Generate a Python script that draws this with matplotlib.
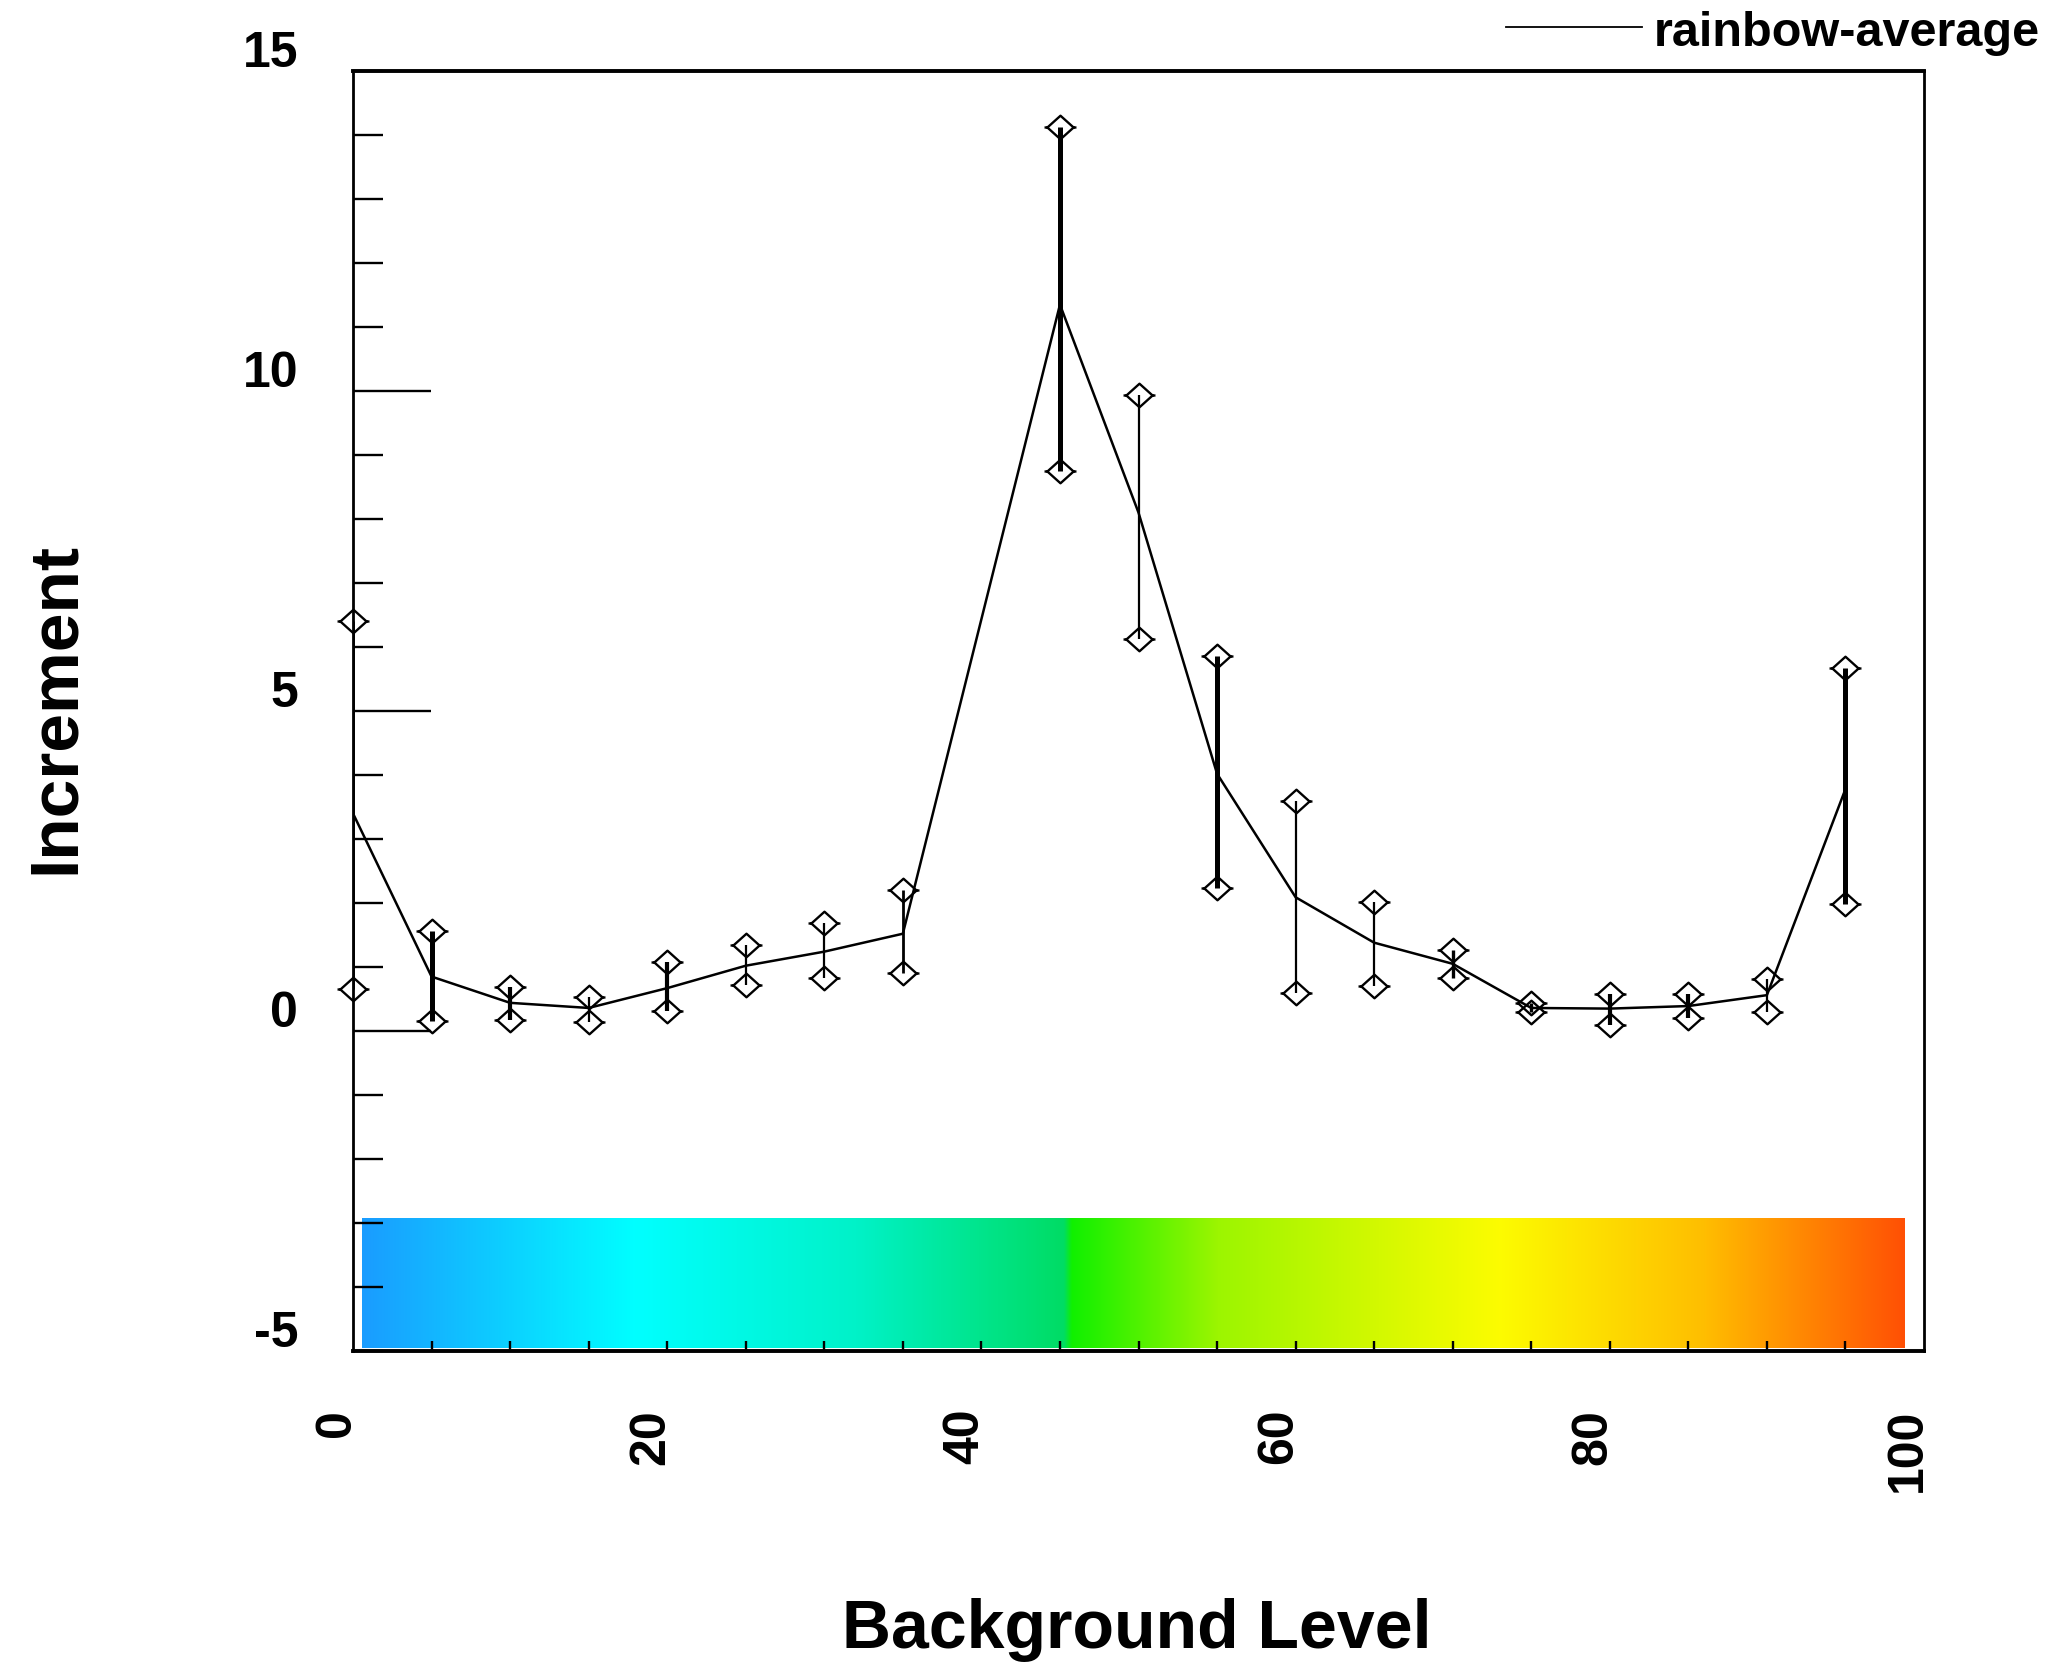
import numpy as np
import matplotlib
matplotlib.use("Agg")
import matplotlib.pyplot as plt
from matplotlib.path import Path
from matplotlib.colors import LinearSegmentedColormap
from matplotlib.transforms import blended_transform_factory, ScaledTranslation
from matplotlib.ticker import FixedLocator, MultipleLocator

# ---- data -------------------------------------------------------------
background_level = [0, 5, 10, 15, 20, 25, 30, 35, 45, 50, 55, 60, 65, 70, 75, 80, 85, 90, 95]
increment_mean = [3.40, 0.85, 0.44, 0.36, 0.67, 1.02, 1.24, 1.52, 11.35, 8.10,
                  4.02, 2.09, 1.38, 1.05, 0.36, 0.35, 0.39, 0.56, 3.78]
increment_upper = [6.40, 1.57, 0.68, 0.53, 1.08, 1.34, 1.68, 2.20, 14.12, 9.94,
                   5.86, 3.60, 2.02, 1.26, 0.43, 0.58, 0.58, 0.82, 5.67]
increment_lower = [0.66, 0.15, 0.17, 0.14, 0.32, 0.72, 0.83, 0.90, 8.75, 6.13,
                   2.23, 0.60, 0.70, 0.83, 0.30, 0.10, 0.20, 0.30, 1.98]

series_label = "rainbow-average"
x_axis_title = "Background Level"
y_axis_title = "Increment"
x_tick_values = [0, 20, 40, 60, 80, 100]
x_tick_labels = ["0", "20", "40", "60", "80", "100"]
y_tick_values = [-5, 0, 5, 10, 15]
y_tick_labels = ["-5", "0", "5", "10", "15"]

# rainbow scale drawn along the bottom of the plot
rainbow_stops = [
    (0.000, "#1a9cff"),
    (0.177, "#00ffff"),
    (0.320, "#00f2c8"),
    (0.455, "#00dc64"),
    (0.460, "#10f000"),
    (0.555, "#9cf500"),
    (0.737, "#fcfc00"),
    (0.870, "#ffbe00"),
    (1.000, "#ff5005"),
]

# ---- style ------------------------------------------------------------
FONT = ["Liberation Sans", "DejaVu Sans"]
plt.rcParams["font.family"] = FONT
plt.rcParams["font.weight"] = "bold"

bar_widths = [2.0, 3.6, 3.0, 1.6, 3.0, 1.6, 1.6, 2.0, 3.6, 1.6,
              3.6, 1.6, 1.6, 2.4, 2.4, 3.0, 3.0, 1.6, 3.6]

W, H, DPI = 2049, 1665, 100
fig = plt.figure(figsize=(W / DPI, H / DPI), dpi=DPI, facecolor="white")
ax = fig.add_axes([353 / W, 1 - 1352 / H, (1924 - 353) / W, (1352 - 72) / H])
ax.set_facecolor("white")

ax.set_xlim(0, 100)
ax.set_ylim(-5, 15)

for side, lw in (("left", 2.0), ("right", 2.0), ("top", 2.8), ("bottom", 2.8)):
    ax.spines[side].set_linewidth(lw)
    ax.spines[side].set_color("black")

# ticks: y major/minor inward on left, x every 5 inward on bottom
ax.yaxis.set_major_locator(FixedLocator([0, 5, 10]))
ax.yaxis.set_minor_locator(MultipleLocator(1))
ax.xaxis.set_major_locator(FixedLocator([]))
ax.xaxis.set_minor_locator(FixedLocator(list(range(5, 100, 5))))
ax.tick_params(axis="y", which="major", direction="in", length=56, width=1.7,
               left=True, right=False, labelleft=False)
ax.tick_params(axis="y", which="minor", direction="in", length=21.5, width=1.7,
               left=True, right=False)
ax.tick_params(axis="x", which="both", direction="in", length=7, width=1.7,
               bottom=True, top=False, labelbottom=False)

# rainbow bar
cmap = LinearSegmentedColormap.from_list("rainbow_bar", rainbow_stops, N=1024)
gradient = np.linspace(0, 1, 1024)[None, :]
ax.imshow(gradient, extent=[0.6, 98.8, -4.95, -2.92], aspect="auto",
          cmap=cmap, interpolation="bilinear", zorder=1)

# mean line
ax.plot(background_level, increment_mean, color="black", lw=1.8,
        label=series_label, zorder=3, solid_joinstyle="miter")

# error bars with diamond caps
ax.vlines(background_level, increment_lower, increment_upper,
          colors="black", linewidths=bar_widths, zorder=3)

cap_path = Path(
    [(-1, 0), (0, 0.9), (1, 0), (0, -0.9), (-1, 0),
     (-1.22, 0), (-1, 0), (1, 0), (1.22, 0)],
    [Path.MOVETO, Path.LINETO, Path.LINETO, Path.LINETO, Path.CLOSEPOLY,
     Path.MOVETO, Path.LINETO, Path.MOVETO, Path.LINETO],
)
for ends in (increment_upper, increment_lower):
    ax.plot(background_level, ends, ls="none", marker=cap_path, ms=23,
            mfc="none", mec="black", mew=1.7, zorder=4, clip_on=False)

# tick labels
px = 1.0 / DPI
ylab_tf = blended_transform_factory(ax.transAxes, ax.transData) + \
    ScaledTranslation(-55 * px, 18 * px, fig.dpi_scale_trans)
for v, s in zip(y_tick_values, y_tick_labels):
    ax.text(0, v, s, transform=ylab_tf, ha="right", va="center",
            fontsize=36, fontweight="bold", family=FONT)

xlab_tf = blended_transform_factory(ax.transData, ax.transAxes) + \
    ScaledTranslation(-16 * px, -57 * px, fig.dpi_scale_trans)
for v, s in zip(x_tick_values, x_tick_labels):
    ax.text(v, 0, s, transform=xlab_tf, ha="center", va="top", rotation=90,
            fontsize=36, fontweight="bold", family=FONT)

# axis titles
fig.text(1137 / W, 1 - 1630 / H, x_axis_title, ha="center", va="center",
         fontsize=49, fontweight="bold", family=FONT)
fig.text(56 / W, 1 - 708 / H, y_axis_title, ha="center", va="center",
         rotation=90, fontsize=50, fontweight="bold", family=FONT)

# legend above the top-right corner
leg = ax.legend(loc="center right", bbox_to_anchor=(2040 / W, 1 - 33 / H),
                bbox_transform=fig.transFigure, frameon=False,
                prop={"family": FONT, "weight": "bold", "size": 35},
                handlelength=2.8, handletextpad=0.25, borderpad=0,
                borderaxespad=0)
for h in leg.get_lines():
    h.set_linewidth(1.3)

fig.savefig("out.png", dpi=DPI, facecolor="white")
